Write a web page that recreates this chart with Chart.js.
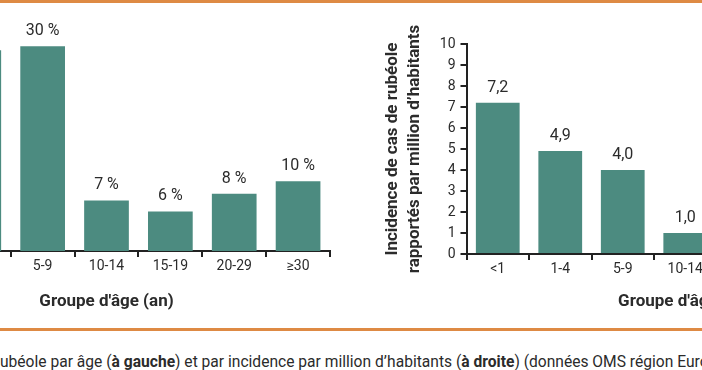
<!DOCTYPE html>
<html lang="fr">
<head>
    <meta charset="UTF-8">
    <title>Rubéole par âge</title>
    <script src="https://cdn.jsdelivr.net/npm/chart.js"></script>
    <style>
        html, body { margin: 0; padding: 0; background: #fff; }
        body { width: 702px; height: 370px; position: relative; overflow: hidden; font-family: Roboto, sans-serif; }
        .trait { position: absolute; left: 0; width: 702px; height: 3px; background: #de8a44; }
        #boxGauche { position: absolute; left: -200px; top: 0; width: 540px; height: 314px; }
        #boxDroite { position: absolute; left: 380px; top: 0; width: 524px; height: 314px; }
        #legende { position: absolute; left: 0; top: 353px; white-space: nowrap; font-size: 15.6px; color: #2b2b2b; }
    </style>
</head>
<body>
    <div class="trait" style="top:0"></div>
    <div id="boxGauche"><canvas id="chartGauche"></canvas></div>
    <div id="boxDroite"><canvas id="chartDroite"></canvas></div>
    <div class="trait" style="top:328px"></div>
    <div id="legende">ubéole par âge (<b>à gauche</b>) et par incidence par million d’habitants (<b>à droite</b>) (données OMS région Europe</div>
    <script>
        // Groupes d'âge (communs aux deux graphiques)
        const groupes = ['<1', '1-4', '5-9', '10-14', '15-19', '20-29', '≥30'];

        // Gauche : répartition des cas (%) - la barre <1 est hors cadre (null)
        const partCas = [null, 29.4, 30, 7.4, 5.8, 8.4, 10.2];

        // Droite : incidence par million d'habitants - barres hors cadre (null)
        const incidence = [7.2, 4.9, 4.0, 1.0, null, null, null];
        const ticksIncidence = [0, 1, 2, 3, 4, 5, 6, 7, 8, 9, 10];

        const couleurBarre = '#4c8b80';
        const couleurAxe = '#222';

        Chart.defaults.font.family = 'Roboto';
        Chart.defaults.color = '#2b2b2b';

        // Étiquettes au-dessus des barres
        const etiquettes = {
            id: 'etiquettes',
            afterDatasetsDraw(chart, args, opts) {
                const ctx = chart.ctx;
                const meta = chart.getDatasetMeta(0);
                ctx.save();
                ctx.font = '16px Roboto';
                ctx.fillStyle = '#2b2b2b';
                ctx.textAlign = 'center';
                ctx.textBaseline = 'middle';
                meta.data.forEach((bar, i) => {
                    const v = chart.data.datasets[0].data[i];
                    if (v === null) return;
                    ctx.fillText(opts.format(v), bar.x, bar.y - 15);
                });
                ctx.restore();
            }
        };

        function axeX(hauteur) {
            return {
                grid: { drawOnChartArea: false, drawTicks: true, tickLength: 6, color: couleurAxe, lineWidth: 2 },
                border: { color: couleurAxe, width: 2 },
                ticks: { font: { size: 14 }, color: '#2b2b2b', padding: 1 },
                title: { display: true, text: "Groupe d'âge (an)", font: { size: 17, weight: 'bold' }, color: '#2b2b2b', padding: { top: 4, bottom: 2 } },
                afterFit: scale => { scale.height = hauteur; }
            };
        }

        new Chart(document.getElementById('chartGauche'), {
            type: 'bar',
            data: {
                labels: groupes,
                datasets: [{ data: partCas, backgroundColor: couleurBarre, barPercentage: 0.7, categoryPercentage: 1.0 }]
            },
            options: {
                responsive: true,
                maintainAspectRatio: false,
                animation: false,
                layout: { padding: { left: 83, top: 12, right: 10, bottom: 0 } },
                plugins: {
                    legend: { display: false },
                    tooltip: { enabled: false },
                    etiquettes: { format: v => Math.round(v) + ' %' }
                },
                scales: {
                    x: axeX(63),
                    y: { display: false, min: 0, max: 35 }
                }
            },
            plugins: [etiquettes]
        });

        new Chart(document.getElementById('chartDroite'), {
            type: 'bar',
            data: {
                labels: groupes,
                datasets: [{ data: incidence, backgroundColor: couleurBarre, barPercentage: 0.7, categoryPercentage: 1.0 }]
            },
            options: {
                responsive: true,
                maintainAspectRatio: false,
                animation: false,
                layout: { padding: { left: 0, top: 44, right: 0, bottom: 0 } },
                plugins: {
                    legend: { display: false },
                    tooltip: { enabled: false },
                    etiquettes: { format: v => v.toFixed(1).replace('.', ',') }
                },
                scales: {
                    x: axeX(60),
                    y: {
                        min: 0,
                        max: 10,
                        afterBuildTicks: scale => { scale.ticks = ticksIncidence.map(v => ({ value: v })); },
                        grid: { drawOnChartArea: false, drawTicks: true, tickLength: 6, color: couleurAxe, lineWidth: 2 },
                        border: { color: couleurAxe, width: 2 },
                        ticks: { font: { size: 14 }, color: '#2b2b2b', padding: 5 },
                        title: {
                            display: true,
                            text: ['Incidence de cas de rubéole', 'rapportés par million d’habitants'],
                            font: { size: 17, weight: 'bold', lineHeight: 1.3 },
                            color: '#2b2b2b',
                            padding: { top: 2, bottom: 0 }
                        },
                        afterFit: scale => { scale.width = 86.5; }
                    }
                }
            },
            plugins: [etiquettes]
        });
    </script>
</body>
</html>
